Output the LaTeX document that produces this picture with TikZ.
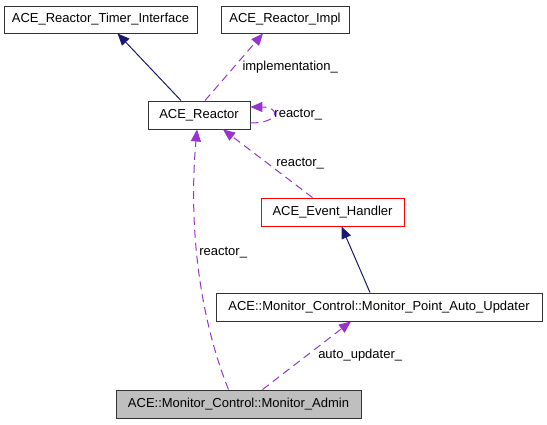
\documentclass[tikz,border=0pt]{standalone}
\usepackage{fontspec}
\setmainfont{Liberation Sans}
\usetikzlibrary{arrows.meta,positioning}
\definecolor{inhblue}{HTML}{191970}
\definecolor{usepurple}{HTML}{9A32CD}
\definecolor{boxgray}{HTML}{BFBFBF}

\begin{document}
\begin{tikzpicture}[x=1pt,y=-1pt,
    font=\fontsize{13}{15}\selectfont,
    classbox/.style={draw=black!80, line width=0.9pt, minimum height=27pt, inner sep=0pt},
    inherit/.style={draw=inhblue, line width=1pt, -{Triangle[length=12pt,width=10pt]}},
    member/.style={draw=usepurple, line width=1pt, dash pattern=on 8pt off 5pt, -{Triangle[length=12pt,width=10pt]}},
    lbl/.style={inner sep=1pt}]
    \useasboundingbox (0,0) rectangle (547,424);
    % classes
    \node[classbox, minimum width=193pt] (timer) at (100.5,19.5) {ACE\_Reactor\_Timer\_Interface};
    \node[classbox, minimum width=128pt] (impl) at (285,19.5) {ACE\_Reactor\_Impl};
    \node[classbox, minimum width=102pt, minimum height=28pt] (reactor) at (199,115) {ACE\_Reactor};
    \node[classbox, draw=red, minimum width=143pt, minimum height=28pt] (handler) at (332.5,212) {ACE\_Event\_Handler};
    \node[classbox, minimum width=326pt, minimum height=28pt] (updater) at (379,307) {ACE::Monitor\_Control::Monitor\_Point\_Auto\_Updater};
    \node[classbox, fill=boxgray, minimum width=245pt, minimum height=28pt] (admin) at (238.5,404) {ACE::Monitor\_Control::Monitor\_Admin};
    % inheritance
    \draw[inherit] ([xshift=-18pt]reactor.north) -- ([xshift=17pt]timer.south);
    \draw[inherit] ([xshift=-9pt]updater.north) -- ([xshift=9pt]handler.south);
    % members
    \draw[member] ([xshift=6pt]reactor.north) -- node[pos=0.5, right=7pt, lbl] {implementation\_} ([xshift=-22pt]impl.south);
    \draw[member] ([yshift=-8pt]reactor.east) .. controls +(30,0) and +(30,0) .. node[right, lbl] {reactor\_} ([yshift=8pt]reactor.east);
    \draw[member] ([xshift=-20pt]handler.north) -- node[pos=0.5, right=7pt, lbl] {reactor\_} ([xshift=24pt]reactor.south);
    \draw[member] ([xshift=-10pt]admin.north) .. controls +(-28,-70) and +(-9,100) .. node[pos=0.57, right=1pt, lbl] {reactor\_} ([xshift=-2pt]reactor.south);
    \draw[member] ([xshift=24pt]admin.north) -- node[pos=0.5, right=10pt, lbl] {auto\_updater\_} ([xshift=-28pt]updater.south);
\end{tikzpicture}
\end{document}
